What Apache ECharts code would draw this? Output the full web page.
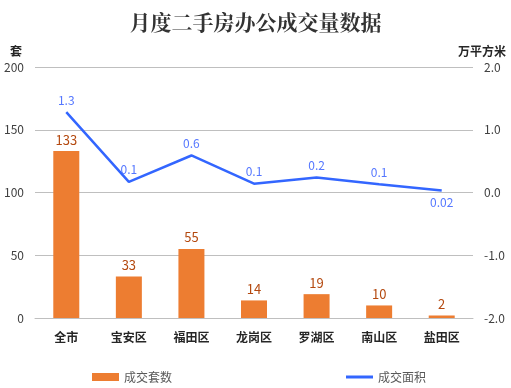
<!DOCTYPE html>
<html>
<head>
<meta charset="utf-8">
<script src="https://cdn.jsdelivr.net/npm/echarts@6/dist/echarts.min.js"></script>
<style>html,body{margin:0;padding:0;background:#fff}#c{width:511px;height:388px}</style>
</head>
<body>
<div id="c"></div>
<script>
const categories = ['全市', '宝安区', '福田区', '龙岗区', '罗湖区', '南山区', '盐田区'];
const dealCounts = [133, 33, 55, 14, 19, 10, 2];
const dealAreas = [1.28, 0.17, 0.59, 0.14, 0.24, 0.13, 0.03];
const dealAreaLabels = ['1.3', '0.1', '0.6', '0.1', '0.2', '0.1', '0.02'];
const leftTicks = [0, 50, 100, 150, 200];
const rightTicks = [-2.0, -1.0, 0.0, 1.0, 2.0];

const chart = echarts.init(document.getElementById('c'));
const font = '"Noto Sans CJK SC", "Microsoft YaHei", sans-serif';
chart.setOption({
  animation: false,
  textStyle: { fontFamily: font },
  title: {
    text: '月度二手房办公成交量数据',
    left: 'center', top: 7,
    textStyle: { fontSize: 21, fontWeight: 'bold', color: '#333', fontFamily: '"Noto Serif CJK SC", serif' }
  },
  legend: {
    left: 87, top: 366, itemGap: 174, itemWidth: 27, itemHeight: 8,
    textStyle: { fontSize: 12, color: '#595959' },
    data: [
      { name: '成交套数', icon: 'rect' },
      { name: '成交面积', icon: 'path://M0,0L27,0L27,3L0,3Z' }
    ]
  },
  grid: { left: 35, right: 38, top: 67, bottom: 70 },
  xAxis: {
    type: 'category', data: categories,
    axisLine: { lineStyle: { color: '#BFBFBF' } },
    axisTick: { show: false },
    axisLabel: { fontSize: 12, fontWeight: 'bold', color: '#262626', margin: 13 }
  },
  yAxis: [
    {
      type: 'value', min: leftTicks[0], max: leftTicks[leftTicks.length - 1], interval: 50,
      name: '套', nameGap: 10,
      nameTextStyle: { fontSize: 12, fontWeight: 'bold', color: '#262626', align: 'right', padding: [0, 13, 0, 0] },
      axisLabel: { fontSize: 12, color: '#404040', margin: 11 },
      splitLine: { lineStyle: { color: '#BFBFBF' } }
    },
    {
      type: 'value', min: rightTicks[0], max: rightTicks[rightTicks.length - 1], interval: 1,
      name: '万平方米', nameGap: 10,
      nameTextStyle: { fontSize: 12, fontWeight: 'bold', color: '#262626', align: 'center', padding: [0, 0, 0, 18] },
      axisLabel: { fontSize: 12, color: '#404040', margin: 11, formatter: v => v.toFixed(1) },
      splitLine: { show: false }
    }
  ],
  series: [
    {
      name: '成交套数', type: 'bar', yAxisIndex: 0, data: dealCounts, barWidth: 26,
      itemStyle: { color: '#ED7D31' },
      label: { show: true, position: 'top', distance: 5, fontSize: 13, color: '#B4490F' }
    },
    {
      name: '成交面积', type: 'line', yAxisIndex: 1, symbol: 'circle', symbolSize: 0.01, showSymbol: true,
      data: dealAreas.map((v, i) => ({
        value: v,
        label: { position: i === dealAreas.length - 1 ? 'bottom' : 'top' }
      })),
      lineStyle: { color: '#3366FF', width: 2.5 },
      itemStyle: { color: '#3366FF' },
      label: { show: true, distance: 6, fontSize: 12, color: '#5577FF', formatter: p => dealAreaLabels[p.dataIndex] }
    }
  ]
});
</script>
</body>
</html>
